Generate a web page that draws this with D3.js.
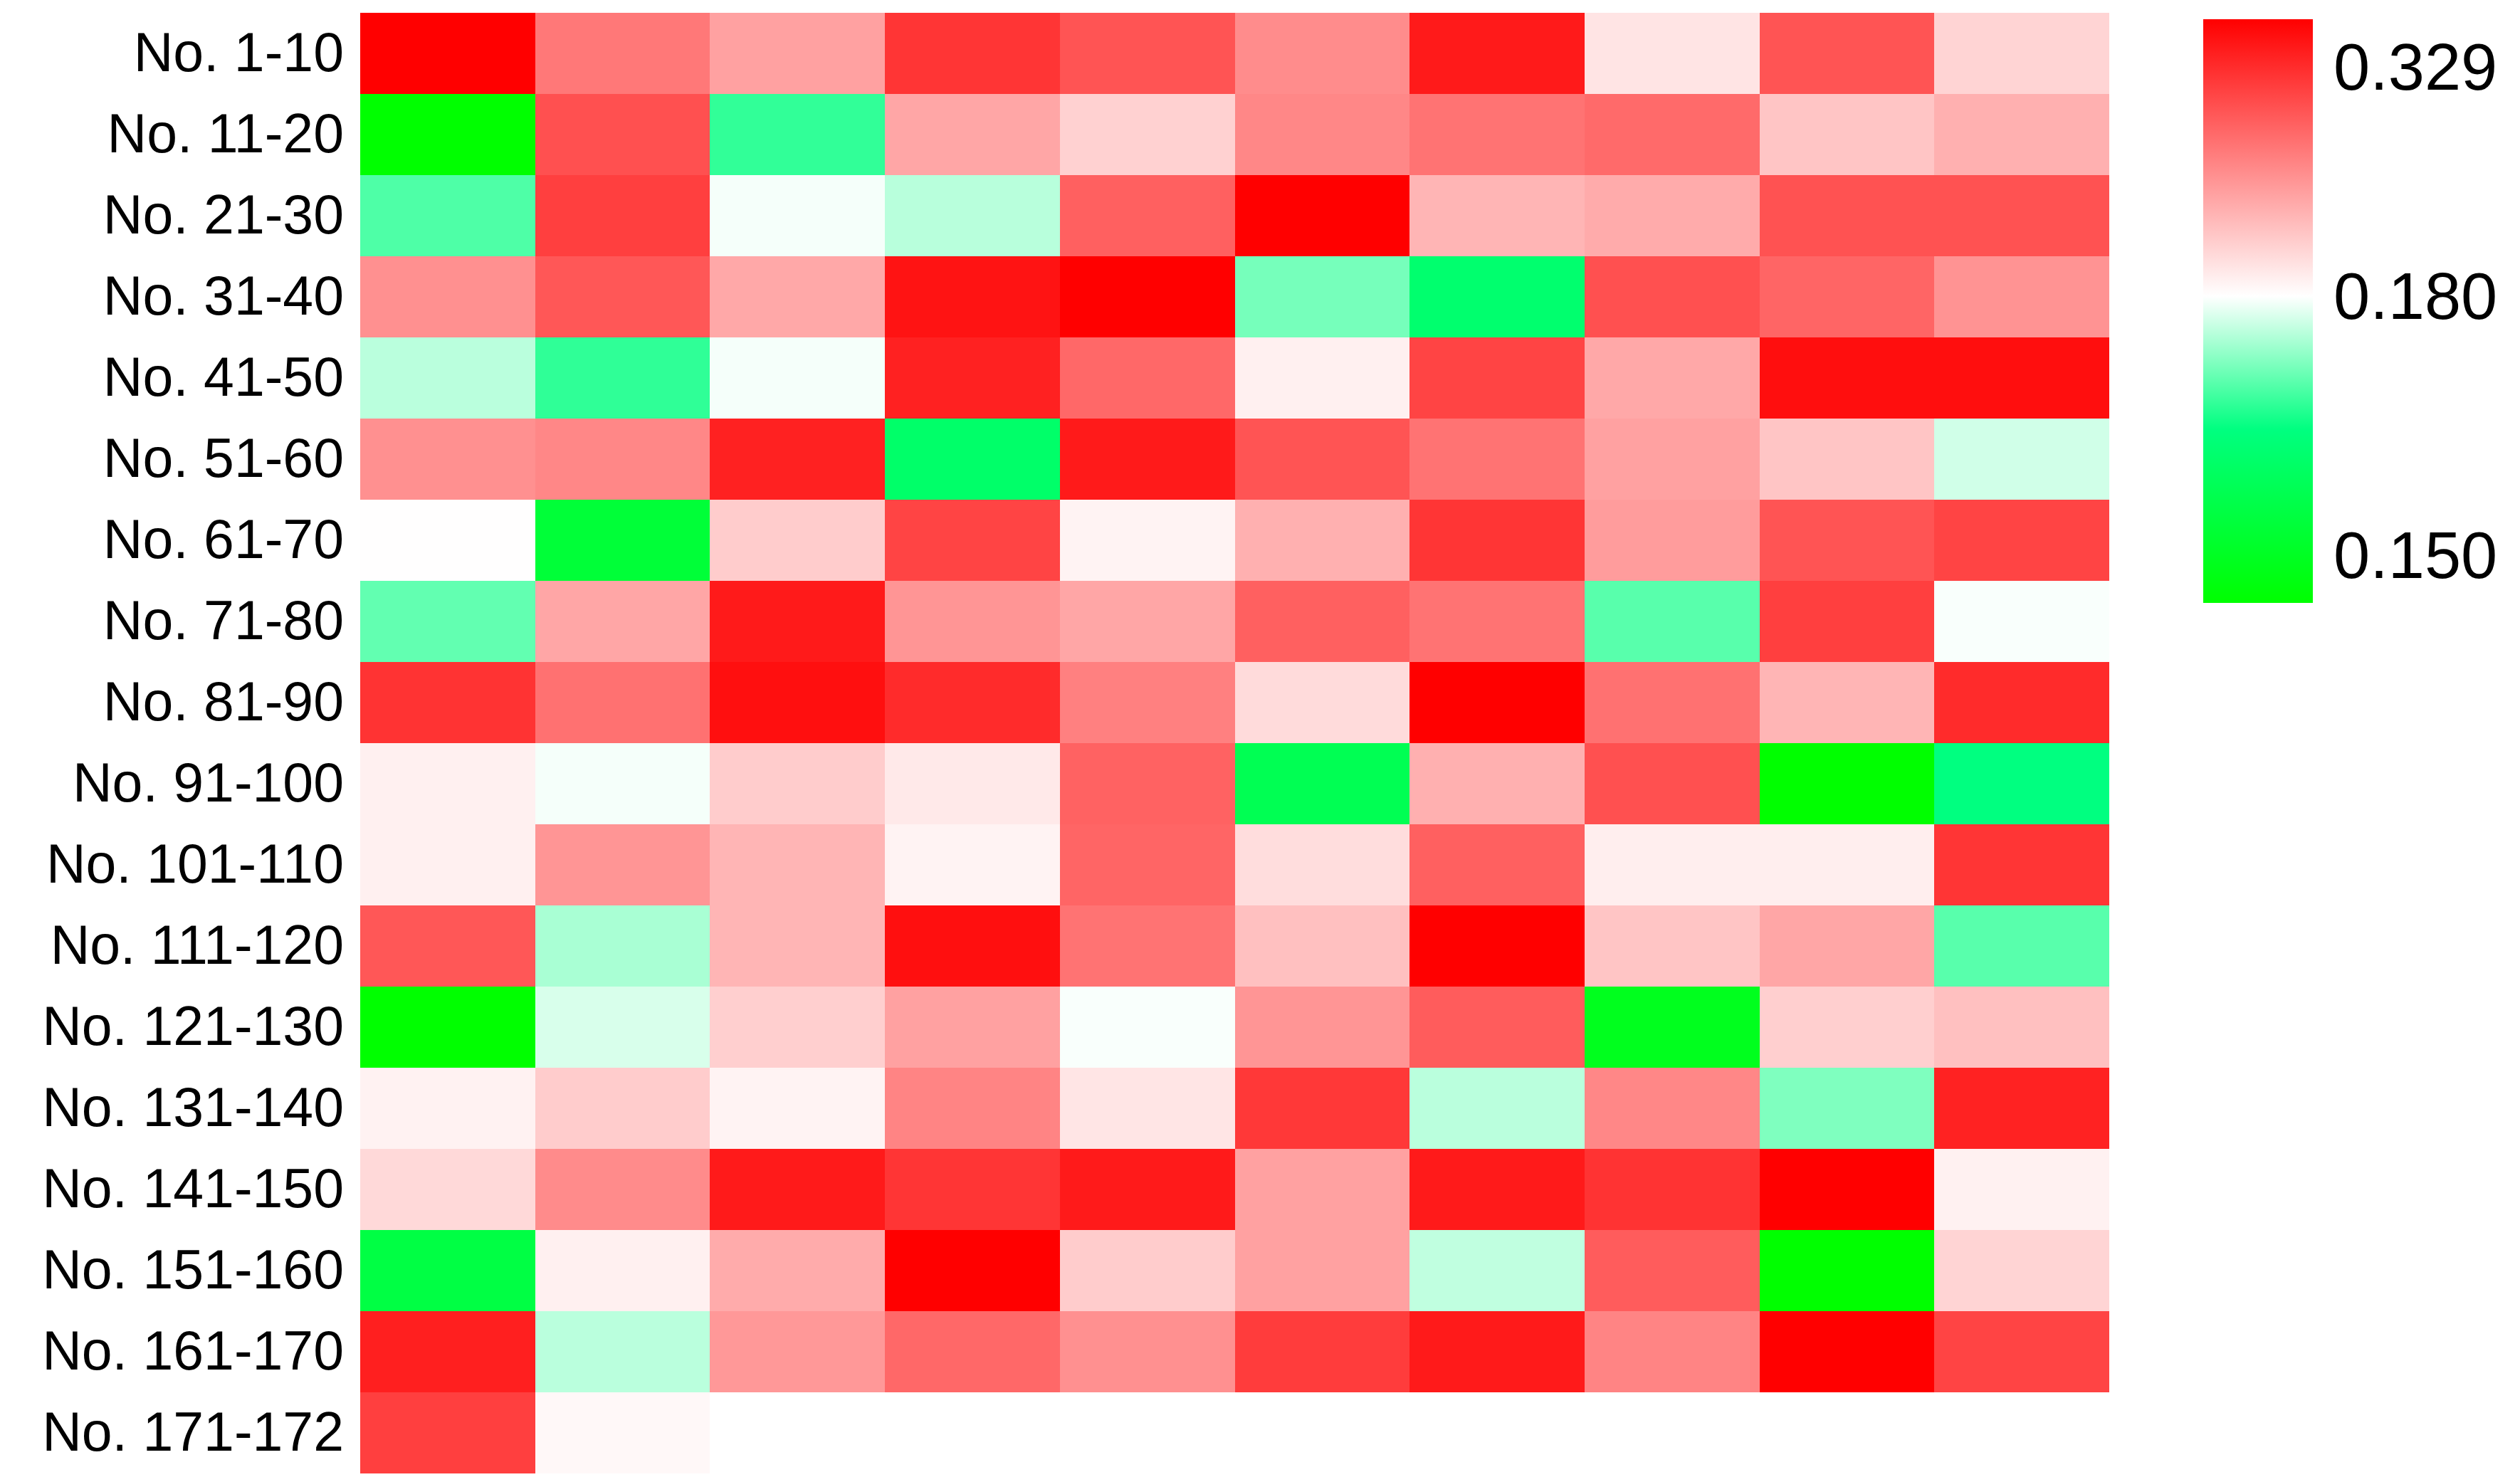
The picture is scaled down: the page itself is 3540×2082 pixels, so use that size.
<!DOCTYPE html>
<html>
<head>
<meta charset="utf-8">
<script src="https://cdn.jsdelivr.net/npm/d3@7"></script>
<style>
  body { margin: 0; background: #fff; }
  text { font-family: "Liberation Sans", Arial, sans-serif; fill: #000; }
</style>
</head>
<body>
<div id="heatmap"></div>
<script>
var svgWidth = 3540;
var svgHeight = 2082;

// row groups (10 samples per row) and position inside the group
var rowLabels = ["No. 1-10", "No. 11-20", "No. 21-30", "No. 31-40", "No. 41-50",
  "No. 51-60", "No. 61-70", "No. 71-80", "No. 81-90", "No. 91-100",
  "No. 101-110", "No. 111-120", "No. 121-130", "No. 131-140", "No. 141-150",
  "No. 151-160", "No. 161-170", "No. 171-172"];
var colKeys = [1, 2, 3, 4, 5, 6, 7, 8, 9, 10];

// values, one list per row
var values = [
  [0.329, 0.259, 0.235, 0.298, 0.280, 0.247, 0.314, 0.196, 0.280, 0.205],
  [0.150, 0.282, 0.1695, 0.232, 0.207, 0.250, 0.262, 0.267, 0.214, 0.226],
  [0.171, 0.292, 0.1795, 0.1764, 0.273, 0.329, 0.223, 0.229, 0.281, 0.281],
  [0.245, 0.278, 0.231, 0.318, 0.329, 0.173, 0.1646, 0.282, 0.270, 0.243],
  [0.1765, 0.1694, 0.1795, 0.310, 0.268, 0.189, 0.289, 0.231, 0.321, 0.321],
  [0.245, 0.250, 0.310, 0.164, 0.314, 0.280, 0.262, 0.235, 0.214, 0.1776],
  [0.1805, 0.1575, 0.210, 0.289, 0.187, 0.226, 0.298, 0.238, 0.280, 0.289],
  [0.172, 0.232, 0.314, 0.242, 0.232, 0.273, 0.262, 0.1715, 0.292, 0.1797],
  [0.299, 0.263, 0.320, 0.304, 0.2545, 0.201, 0.329, 0.263, 0.223, 0.304],
  [0.189, 0.1795, 0.210, 0.193, 0.272, 0.161, 0.226, 0.282, 0.150, 0.167],
  [0.189, 0.242, 0.223, 0.187, 0.270, 0.200, 0.273, 0.190, 0.190, 0.298],
  [0.278, 0.1756, 0.223, 0.320, 0.262, 0.217, 0.329, 0.214, 0.232, 0.1715],
  [0.150, 0.178, 0.208, 0.235, 0.1797, 0.242, 0.275, 0.154, 0.208, 0.217],
  [0.1875, 0.210, 0.187, 0.252, 0.195, 0.296, 0.1765, 0.250, 0.1735, 0.309],
  [0.202, 0.248, 0.314, 0.298, 0.314, 0.235, 0.314, 0.299, 0.329, 0.188],
  [0.159, 0.189, 0.229, 0.329, 0.210, 0.235, 0.1768, 0.275, 0.150, 0.205],
  [0.311, 0.1765, 0.240, 0.268, 0.245, 0.294, 0.314, 0.252, 0.329, 0.289],
  [0.292, 0.184]
];

var legendTicks = [0.150, 0.180, 0.329];
var colorStops = [0.150, 0.167, 0.180, 0.329];
var colorRange = ["#00ff00", "#00ff80", "#ffffff", "#ff0000"];

var svg = d3.select("#heatmap")
  .append("svg")
  .attr("width", svgWidth)
  .attr("height", svgHeight)
  .style("display", "block");

var xScale = d3.scaleBand().domain(colKeys).range([506, 2963]);
var yScale = d3.scaleBand().domain(rowLabels).range([18, 2070]);
var color = d3.scaleLinear().domain(colorStops).range(colorRange).clamp(true);

// flatten rows into cells
var cells = [];
values.forEach(function(row, i) {
  row.forEach(function(v, j) {
    cells.push({ row: rowLabels[i], col: colKeys[j], value: v });
  });
});

svg.append("g")
  .selectAll("rect")
  .data(cells)
  .enter()
  .append("rect")
  .attr("x", function(d) { return xScale(d.col); })
  .attr("y", function(d) { return yScale(d.row); })
  .attr("width", xScale.bandwidth())
  .attr("height", yScale.bandwidth())
  .attr("fill", function(d) { return color(d.value); })
  .attr("shape-rendering", "crispEdges");

// row labels
var leftAxis = d3.axisLeft(yScale).tickSize(0).tickPadding(23);
var yAxis = svg.append("g")
  .attr("transform", "translate(" + xScale.range()[0] + ",0)")
  .call(leftAxis);
yAxis.select(".domain").remove();
yAxis.selectAll("text")
  .style("font-family", "'Liberation Sans', Arial, sans-serif")
  .style("font-size", "77px")
  .attr("fill", "#000");

// colour legend
var legendX = 3095;
var legendW = 154;
var legendTop = 27;
var legendBottom = 847;
var legendY = d3.scaleLinear().domain(legendTicks).range([legendBottom, 416, legendTop]);

var grad = svg.append("defs")
  .append("linearGradient")
  .attr("id", "legend-grad")
  .attr("x1", 0).attr("y1", 0)
  .attr("x2", 0).attr("y2", 1);

grad.selectAll("stop")
  .data(colorStops.slice().reverse())
  .enter()
  .append("stop")
  .attr("offset", function(d) { return (legendY(d) - legendTop) / (legendBottom - legendTop); })
  .attr("stop-color", function(d) { return color(d); });

svg.append("rect")
  .attr("x", legendX)
  .attr("y", legendTop)
  .attr("width", legendW)
  .attr("height", legendBottom - legendTop)
  .attr("fill", "url(#legend-grad)");

svg.append("g")
  .selectAll("text")
  .data(legendTicks)
  .enter()
  .append("text")
  .attr("x", legendX + legendW + 29)
  .attr("y", function(d) {
    return Math.max(legendTop + 67, Math.min(legendBottom - 67, legendY(d)));
  })
  .attr("dy", "0.35em")
  .style("font-size", "92px")
  .text(function(d) { return d3.format(".3f")(d); });
</script>
</body>
</html>
